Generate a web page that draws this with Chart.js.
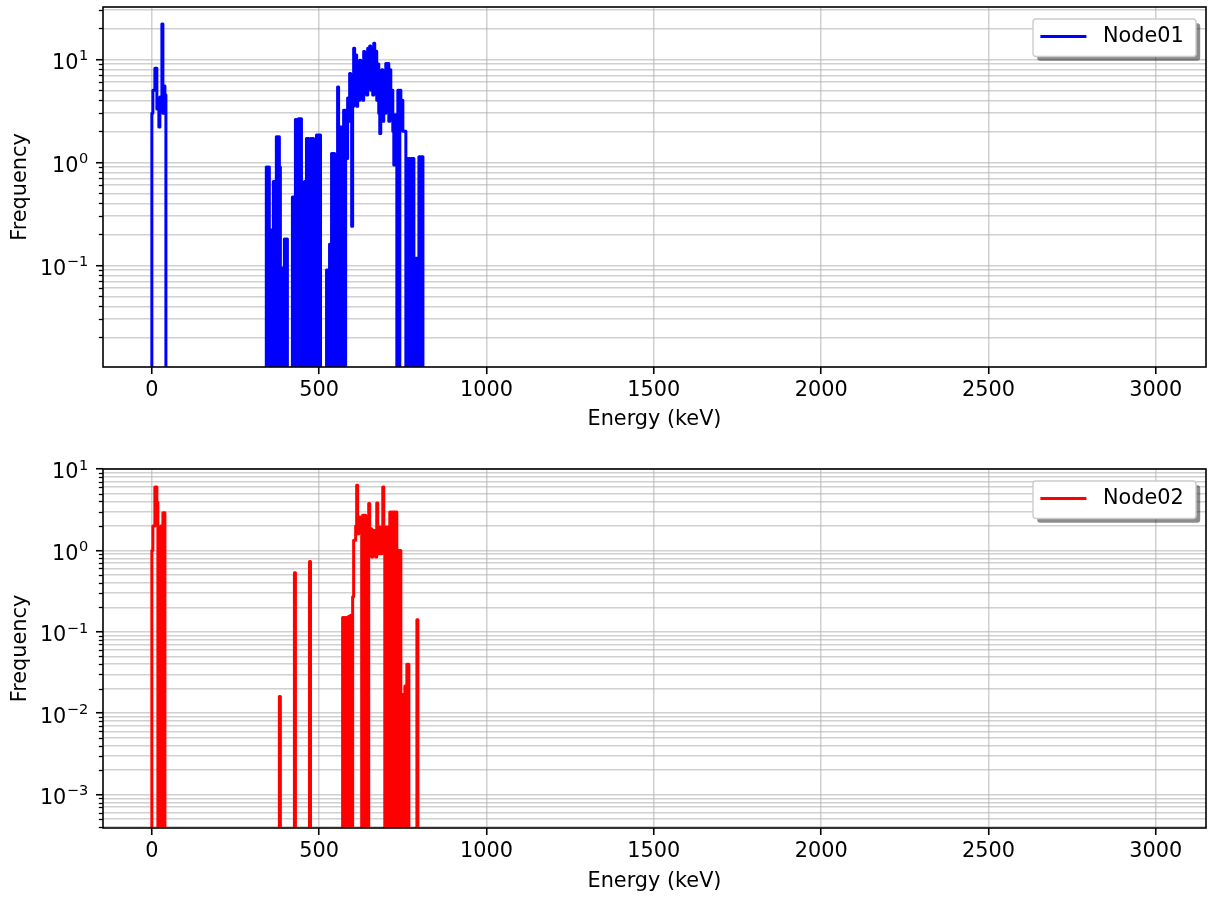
<!DOCTYPE html>
<html>
<head>
<meta charset="utf-8">
<script src="https://cdn.jsdelivr.net/npm/chart.js@4.4.1/dist/chart.umd.min.js"></script>
<style>
html,body{margin:0;padding:0;background:#fff;}
#wrap{position:relative;width:1208px;height:901px;overflow:hidden;background:#fff;}
canvas{position:absolute;left:0;display:block;}
#c1{top:0;}
#c2{top:450px;}
</style>
</head>
<body>
<div id="wrap">
<canvas id="c1" width="1208" height="450"></canvas>
<canvas id="c2" width="1208" height="451"></canvas>
</div>
<script>
// ---------------- data ----------------
const xTickValues = [0, 500, 1000, 1500, 2000, 2500, 3000];
const binWidthKeV = 3;

// Node01 histogram (frequency per 3 keV bin)
const node01LowStartKeV = 0;
const node01Low = [3.0, 5.0, 5.0, 8.2, 8.2, 3.3, 3.3, 2.2, 4.3, 4.3, 22.0, 3.0, 5.5, 4.5];
const node01MainStartKeV = 342;
const node01Main = [
  0.9, 0, 0.9, 0, 0.22, 0, 0.22, 0.65, 0, 0.65,
  1.77, 0, 1.77, 0.9, 0, 0.016, 0.094, 0, 0.18, 0,
  0.18, 0, 0, 0, 0, 0, 0.46, 0, 0.46, 2.6,
  0, 2.6, 2.65, 0, 2.65, 0.63, 0, 0.63, 0.65, 0,
  1.7, 1.7, 0, 0, 1.7, 0, 1.7, 0.78, 0, 0.78,
  1.84, 0, 1.84, 1.84, 0, 0, 0, 0, 0, 0,
  0.09, 0, 0.09, 0.16, 0, 1.22, 0, 1.22, 0.24, 0,
  0.24, 5.4, 0, 2.2, 2.2, 0, 0.22, 3.2, 0, 3.2,
  1.09, 4.2, 2.5, 7.3, 3.0, 0.24, 3.5, 12.8, 4.0, 11.0,
  3.5, 7.9, 4.0, 9.8, 5.0, 8.5, 4.0, 11.9, 5.5, 10.5,
  4.5, 12.8, 6.0, 13.5, 5.0, 6.5, 4.5, 14.3, 5.5, 12.0,
  4.0, 9.0, 3.0, 1.9, 3.5, 7.9, 2.5, 6.0, 3.0, 9.1,
  3.5, 9.1, 2.5, 7.9, 3.0, 5.0, 2.0, 0.94, 2.9, 0.94,
  0, 5.0, 0, 5.0, 4.0, 4.0, 2.0, 2.0, 2.0, 0,
  1.09, 0, 1.09, 0, 1.09, 0, 1.09, 0.117, 0, 0.117,
  0, 0.117, 1.13, 0, 1.13, 1.13
];

// Node02 histogram (frequency per 3 keV bin)
const node02LowStartKeV = 0;
const node02Low = [1.0, 2.0, 2.0, 6.0, 6.0, 3.9, 0, 1.0, 0, 2.0, 0, 2.9, 2.9];
const node02PeakKeV = [381, 426, 471, 792];
const node02PeakValues = [0.016, 0.53, 0.73, 0.141];
const node02MainStartKeV = 570;
const node02Main = [
  0.15, 0, 0.15, 0, 0.15, 0, 0.155, 0, 0.16, 0,
  0.27, 1.33, 1.33, 2.0, 6.3, 1.6, 2.57, 1.68, 2.57, 0,
  2.7, 0, 2.7, 0, 1.76, 0, 3.76, 1.85, 1.85, 0.83,
  1.76, 0.9, 1.76, 0.83, 3.83, 1.85, 0.91, 1.94, 0.91, 1.94,
  6.0, 1.94, 0, 1.94, 0, 1.94, 0, 2.97, 0, 2.97,
  0, 2.97, 0, 2.97, 0, 1.0, 0, 1.0, 0, 0.017,
  0, 0.017, 0.0216, 0, 0.04, 0.04
];

// ---------------- helpers ----------------
const FONT = 'DejaVu Sans';
const FS = 20.8;
const GRID = 'rgba(176,176,176,0.6)';

function histPoints(segments, floor) {
  const pts = [];
  segments.slice().sort((a, b) => a.start - b.start).forEach(seg => {
    pts.push({x: seg.start, y: floor});
    seg.values.forEach((v, i) => pts.push({x: seg.start + i * binWidthKeV, y: v > 0 ? v : floor}));
    pts.push({x: seg.start + seg.values.length * binWidthKeV, y: floor});
  });
  return pts;
}

function logTicks(min, max) {
  const out = [];
  for (let e = Math.floor(Math.log10(min)); e <= Math.ceil(Math.log10(max)); e++) {
    for (let k = 1; k <= 9; k++) {
      const v = k * Math.pow(10, e);
      if (v >= min * 0.9999 && v <= max * 1.0001) out.push({value: v, major: k === 1, exp: e});
    }
  }
  return out;
}

function roundRect(ctx, x, y, w, h, r) {
  ctx.beginPath();
  ctx.moveTo(x + r, y);
  ctx.lineTo(x + w - r, y); ctx.quadraticCurveTo(x + w, y, x + w, y + r);
  ctx.lineTo(x + w, y + h - r); ctx.quadraticCurveTo(x + w, y + h, x + w - r, y + h);
  ctx.lineTo(x + r, y + h); ctx.quadraticCurveTo(x, y + h, x, y + h - r);
  ctx.lineTo(x, y + r); ctx.quadraticCurveTo(x, y, x + r, y);
  ctx.closePath();
}

const framePlugin = {
  id: 'frame',
  afterDatasetsDraw(chart) {
    const {ctx, chartArea: a} = chart;
    const ys = chart.scales.y;
    ctx.save();
    // minor tick marks
    ctx.strokeStyle = '#000';
    ctx.lineWidth = 1.3;
    ys.ticks.forEach(t => {
      if (!t.major) {
        const p = Math.round(ys.getPixelForValue(t.value)) + 0.5;
        ctx.beginPath(); ctx.moveTo(a.left - 4.2, p); ctx.lineTo(a.left, p); ctx.stroke();
      }
    });
    // log tick labels 10^n with raised exponent
    ctx.fillStyle = '#000';
    ctx.textBaseline = 'alphabetic';
    ctx.textAlign = 'left';
    ys.ticks.forEach(t => {
      if (t.major) {
        const p = ys.getPixelForValue(t.value);
        const base = '10';
        const ex = String(t.exp).replace('-', '\u2212');
        ctx.font = (FS * 0.7) + 'px "' + FONT + '"';
        const wEx = ctx.measureText(ex).width;
        ctx.font = FS + 'px "' + FONT + '"';
        const wBase = ctx.measureText(base).width;
        const right = a.left - 14.7;
        const baseline = p + 9.4;
        ctx.fillText(base, right - wEx - wBase - 0.5, baseline);
        ctx.font = (FS * 0.7) + 'px "' + FONT + '"';
        ctx.fillText(ex, right - wEx, baseline - 8.6);
      }
    });
    // spines
    ctx.lineWidth = 1.6;
    ctx.strokeStyle = '#000';
    ctx.strokeRect(a.left, a.top, a.right - a.left, a.bottom - a.top);
    ctx.restore();
  },
  afterDraw(chart) {
    const ds = chart.data.datasets[0];
    const a = chart.chartArea;
    const ctx = chart.ctx;
    const w = 163, h = 37.5;
    const x = a.right - 10 - w, y = a.top + 12;
    ctx.save();
    ctx.fillStyle = 'rgba(0,0,0,0.45)';
    roundRect(ctx, x + 4.2, y + 4.2, w, h, 3); ctx.fill();
    ctx.fillStyle = '#fff';
    roundRect(ctx, x, y, w, h, 3); ctx.fill();
    ctx.strokeStyle = '#cccccc'; ctx.lineWidth = 1.4; ctx.stroke();
    ctx.strokeStyle = ds.borderColor; ctx.lineWidth = ds.borderWidth;
    ctx.beginPath(); ctx.moveTo(x + 7.4, y + 17.5); ctx.lineTo(x + 53.4, y + 17.5); ctx.stroke();
    ctx.fillStyle = '#000';
    ctx.font = FS + 'px "' + FONT + '"';
    ctx.textBaseline = 'middle';
    ctx.textAlign = 'left';
    ctx.fillText(ds.label, x + 70, y + 18);
    ctx.restore();
  }
};

function makeChart(id, label, color, points, yMin, yMax, padTop, xAxisH, titlePadB) {
  return new Chart(document.getElementById(id), {
    type: 'line',
    data: {datasets: [{
      label: label, data: points, borderColor: color, backgroundColor: color,
      borderWidth: 3.0, pointRadius: 0, stepped: true, fill: false, tension: 0,
      borderJoinStyle: 'round', borderCapStyle: 'butt', clip: 0
    }]},
    options: {
      responsive: false, animation: false, devicePixelRatio: 1, events: [],
      layout: {padding: {top: padTop, right: 2, bottom: 0, left: 0}, autoPadding: false},
      plugins: {legend: {display: false}, tooltip: {enabled: false}},
      scales: {
        x: {
          type: 'linear', min: -146, max: 3150,
          afterBuildTicks: s => { s.ticks = xTickValues.map(v => ({value: v})); },
          afterFit: s => { s.height = xAxisH; s.paddingLeft = 0; s.paddingRight = 0; },
          ticks: {autoSkip: false, maxRotation: 0, padding: 4, color: '#000',
                  font: {family: FONT, size: FS}, callback: v => String(v)},
          grid: {color: GRID, lineWidth: 1.5, drawTicks: true, tickLength: 7, tickWidth: 1.6, tickColor: '#000'},
          border: {display: false},
          title: {display: true, text: 'Energy (keV)', color: '#000',
                  font: {family: FONT, size: FS}, padding: {top: 0, bottom: titlePadB}}
        },
        y: {
          type: 'logarithmic', min: yMin, max: yMax,
          afterBuildTicks: s => { s.ticks = logTicks(yMin, yMax); },
          afterFit: s => { s.width = 103; s.paddingTop = 0; s.paddingBottom = 0; },
          ticks: {autoSkip: false, padding: 8, color: '#000', font: {family: FONT, size: FS},
                  callback: () => ''},
          grid: {color: GRID, lineWidth: 1.5, drawTicks: true, tickLength: 7, tickWidth: 1.6,
                 tickColor: c => (c.tick && c.tick.major) ? '#000' : 'rgba(0,0,0,0)'},
          border: {display: false},
          title: {display: true, text: 'Frequency', color: '#000',
                  font: {family: FONT, size: FS}, padding: {top: 8, bottom: 0}}
        }
      }
    },
    plugins: [framePlugin]
  });
}

const node01Points = histPoints([
  {start: node01LowStartKeV, values: node01Low},
  {start: node01MainStartKeV, values: node01Main}
], 1e-12);

const node02Points = histPoints([
  {start: node02LowStartKeV, values: node02Low},
  {start: node02MainStartKeV, values: node02Main}
].concat(node02PeakKeV.map((k, i) => ({start: k, values: [node02PeakValues[i]]}))), 1e-12);

makeChart('c1', 'Node01', '#0000ff', node01Points, 0.0103, 32.2, 7, 83, 17.5);
makeChart('c2', 'Node02', '#ff0000', node02Points, 3.89e-4, 10, 19, 73, 6.8);
</script>
</body>
</html>
